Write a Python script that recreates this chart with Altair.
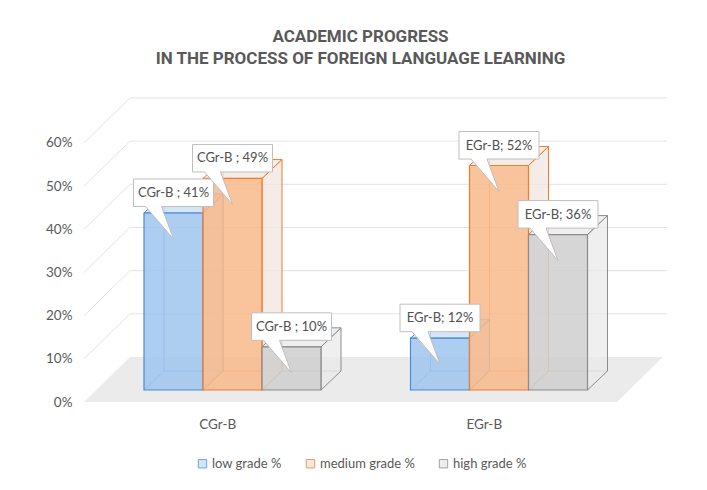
import altair as alt
import pandas as pd

# ---------------- data ----------------
categories = ["CGr-B", "EGr-B"]
series = ["low grade %", "medium grade %", "high grade %"]
low_grade = [0.41, 0.12]
medium_grade = [0.49, 0.52]
high_grade = [0.10, 0.36]
label_sep = [" ; ", "; "]
y_ticks = [0.0, 0.1, 0.2, 0.3, 0.4, 0.5, 0.6]
title_lines = ["ACADEMIC PROGRESS", "IN THE PROCESS OF FOREIGN LANGUAGE LEARNING"]

# ---------------- styles ----------------
front_colors = ["#9fc6ee", "#f8b98b", "#cfcfcf"]
edge_colors = ["#4a8ad4", "#ed7d31", "#8c8c8c"]
side_colors = ["#c9def4", "#f2e6df", "#e9e9e9"]
TXT = "#595959"
FONT = "Lato"

# ---------------- geometry (pixels) ----------------
PLOT_W, PLOT_H = 583, 304
PX_PER_CAT = 266.5
PX_PER_UNIT = 431.7
X_MAX = PLOT_W / PX_PER_CAT
Y_MAX = PLOT_H / PX_PER_UNIT


def px(v):
    return v / PX_PER_CAT


def py(v):
    return v / PX_PER_UNIT


FLOOR_DX, FLOOR_DY = 46, 45
FRONT_D = 12
BAR_DX, BAR_DY = 20, 19
GROUP_START = 60
BAR_W = 59

xscale = alt.Scale(domain=[0, X_MAX], nice=False, zero=False)
yscale = alt.Scale(domain=[0, Y_MAX], nice=False, zero=False)
cat_expr = "[" + ",".join("'" + c + "'" for c in categories) + "][floor(datum.value)]"
xaxis = alt.Axis(values=[i + 0.5 for i in range(len(categories))], labelExpr=cat_expr,
                 domain=False, ticks=False, grid=False, labelPadding=15,
                 labelFontSize=13.5, labelColor=TXT, labelFont=FONT, title=None)
yaxis = alt.Axis(values=y_ticks, format=".0%", domain=False, ticks=False, grid=False,
                 labelPadding=12, labelFontSize=13.5, labelColor=TXT, labelFont=FONT,
                 title=None)

legend = alt.Legend(orient="none", legendX=112, legendY=359,
                    direction="horizontal", title=None,
                    symbolType="square", symbolSize=70, symbolStrokeWidth=1,
                    labelFontSize=13, labelColor=TXT, labelFont=FONT,
                    columnPadding=22, labelOffset=3)


def X(f):
    return alt.X(f, type="quantitative", scale=xscale, axis=xaxis)


def Y(f):
    return alt.Y(f, type="quantitative", scale=yscale, axis=yaxis)


# ---------------- build tables ----------------
bars, sides, tops, hidden = [], [], [], []
for i, cat in enumerate(categories):
    for j, (s, vals) in enumerate(zip(series, [low_grade, medium_grade, high_grade])):
        v = vals[i]
        x0 = i + px(GROUP_START + j * BAR_W)
        x1 = x0 + px(BAR_W)
        yb = py(FRONT_D)
        yt = v + yb
        dx, dy = px(BAR_DX), py(BAR_DY)
        bid = f"{i}-{j}"
        bars.append(dict(series=s, bar=bid, x0=x0, x1=x1, yb=yb, yt=yt, v=v,
                         xc=(x0 + x1) / 2,
                         label=f"{cat}{label_sep[i]}{round(v * 100)}%"))
        sides += [dict(series=s, bar=bid, x=x1, y=yt, y2=yb),
                  dict(series=s, bar=bid, x=x1 + dx, y=yt + dy, y2=yb + dy)]
        tops += [dict(series=s, bar=bid, y=yt, x=x0, x2=x1),
                 dict(series=s, bar=bid, y=yt + dy, x=x0 + dx, x2=x1 + dx)]
        hidden += [dict(series=s, seg=bid + "a", o=0, x=x0 + dx, y=yt + dy),
                   dict(series=s, seg=bid + "a", o=1, x=x0 + dx, y=yb + dy),
                   dict(series=s, seg=bid + "a", o=2, x=x1 + dx, y=yb + dy),
                   dict(series=s, seg=bid + "b", o=0, x=x0, y=yb),
                   dict(series=s, seg=bid + "b", o=1, x=x0 + dx, y=yb + dy)]

bars_df = pd.DataFrame(bars)
sides_df = pd.DataFrame(sides)
tops_df = pd.DataFrame(tops)
hidden_df = pd.DataFrame(hidden)

floor_df = pd.DataFrame([dict(y=0.0, x=0.0, x2=float(len(categories))),
                         dict(y=py(FLOOR_DY), x=px(FLOOR_DX),
                              x2=len(categories) + px(FLOOR_DX))])
grid_rows = []
for t in y_ticks[1:]:
    grid_rows += [dict(t=t, o=0, x=0.0, y=t),
                  dict(t=t, o=1, x=px(FLOOR_DX), y=t + py(FLOOR_DY)),
                  dict(t=t, o=2, x=X_MAX, y=t + py(FLOOR_DY))]
grid_df = pd.DataFrame(grid_rows)

stroke_enc = alt.Stroke("series:N", scale=alt.Scale(domain=series, range=edge_colors),
                        legend=legend)
side_enc = alt.Color("series:N", scale=alt.Scale(domain=series, range=side_colors),
                     legend=None)

floor = alt.Chart(floor_df).mark_area(orient="horizontal", color="#ebebeb").encode(
    y=Y("y"), x=X("x"), x2="x2")

grid = alt.Chart(grid_df).mark_line(color="#e3e3e3", strokeWidth=1).encode(
    x=X("x"), y=Y("y"), detail="t:N", order="o:Q")

hidden_lines = alt.Chart(hidden_df).mark_line(strokeWidth=1, opacity=0.8).encode(
    x=X("x"), y=Y("y"), detail="seg:N", order="o:Q", stroke=stroke_enc)

side_faces = alt.Chart(sides_df).mark_area(fillOpacity=0.75, strokeWidth=1).encode(
    x=X("x"), y=Y("y"), y2="y2", detail="bar:N", color=side_enc, stroke=stroke_enc)

top_faces = alt.Chart(tops_df).mark_area(orient="horizontal", fillOpacity=0.75,
                                         strokeWidth=1).encode(
    y=Y("y"), x=X("x"), x2="x2", detail="bar:N", color=side_enc, stroke=stroke_enc)

front = alt.Chart(bars_df).mark_rect(fillOpacity=0.85, strokeWidth=1.2).encode(
    x=X("x0"), x2="x1", y=Y("yb"), y2="yt",
    fill=alt.Fill("series:N", scale=alt.Scale(domain=series, range=front_colors),
                  legend=legend),
    stroke=stroke_enc)

CALLOUT = "M-1,-1.15 H1 V-0.4625 H-0.3 L0,0.35 L-0.7,-0.4625 H-1 Z"
callouts = alt.Chart(bars_df).mark_point(shape=CALLOUT, size=6400, filled=True,
                                         fill="white", stroke="#bfbfbf",
                                         strokeWidth=1, opacity=1).encode(
    x=X("xc"), y=Y("v"))

callout_text = alt.Chart(bars_df).mark_text(dy=-32, fontSize=13, color="#505050",
                                            font=FONT, align="center",
                                            baseline="middle").encode(
    x=X("xc"), y=Y("v"), text="label:N")

chart = alt.layer(floor, grid, hidden_lines, side_faces, top_faces, front, callouts,
                  callout_text).properties(
    width=PLOT_W, height=PLOT_H,
    background="white",
    autosize=alt.AutoSizeParams(type="none"),
    padding={"left": 76, "top": 90, "right": 32, "bottom": 80},
    title=alt.TitleParams(text=title_lines, fontSize=17, fontWeight="bold",
                          color=TXT, font="Roboto", anchor="middle", dx=-15,
                          offset=28, lineHeight=22),
).configure_view(stroke=None)

chart.save("out.html", embed_options={"renderer": "svg", "actions": False})
